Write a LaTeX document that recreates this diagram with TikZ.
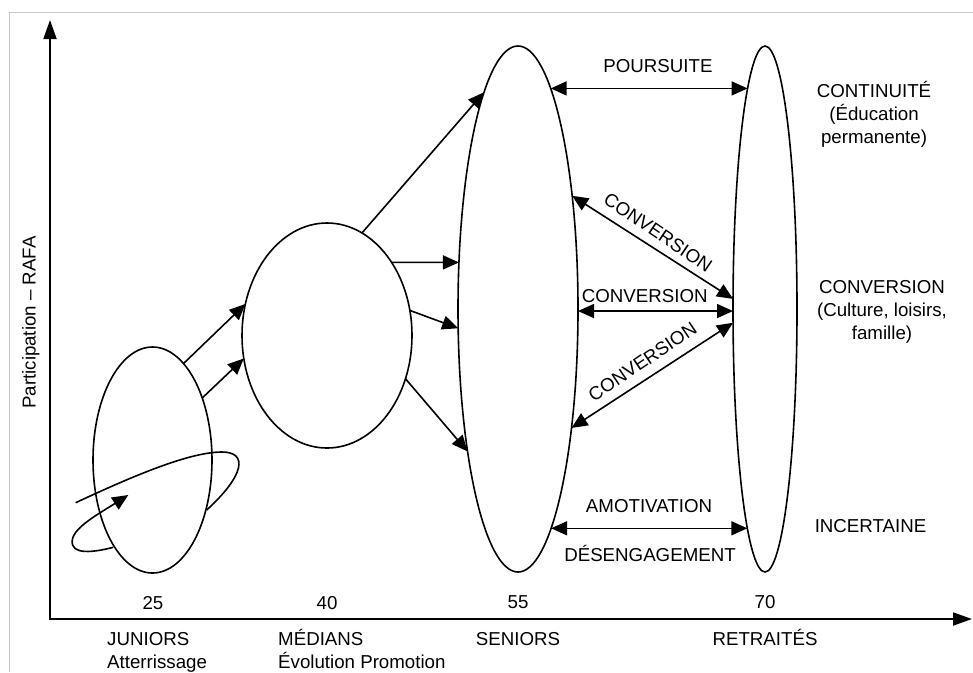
\documentclass[tikz,border=0pt]{standalone}
\usepackage{fontspec}
\setmainfont{Liberation Sans}
\usetikzlibrary{arrows.meta,shapes.geometric,calc}
\begin{document}
\begin{tikzpicture}[x=1pt,y=-1pt,
  >={Triangle[length=16pt,width=14pt]},
  every node/.style={font=\fontsize{18.7}{23}\selectfont, inner sep=0pt},
  ell/.style={draw, ellipse, line width=1.6pt, inner sep=0pt, outer sep=0pt},
  conn/.style={line width=1.6pt, ->},
  dconn/.style={line width=1.6pt, <->},
  axis/.style={line width=1.8pt, line join=miter,
    {Triangle[length=19pt,width=13pt]}-{Triangle[length=19pt,width=13pt]}},
  frame/.style={draw=black!22, line width=1pt},
  lbl/.style={anchor=base},
  rlbl/.style={anchor=base, align=center},
  blbl/.style={anchor=base west, align=left}]
\useasboundingbox (0,0) rectangle (973,672);
% frame
\coordinate (fbl) at (9.5,672);
\coordinate (ftl) at (9.5,12.5);
\coordinate (ftr) at (973,12.5);
\draw[frame] (fbl) -- (ftl) -- (ftr);
% axes
\coordinate (O) at (50,619);
\coordinate (ytip) at (50,20);
\coordinate (xtip) at (972,619);
\draw[axis] (ytip) -- (O) -- (xtip);
\node[rotate=90, anchor=base] (ylab) at (35.5,322.5) {Participation – RAFA};
% ellipses
\node[ell, minimum width=119pt, minimum height=226pt] (e1) at (152.5,460) {};
\node[ell, minimum width=170pt, minimum height=225pt] (e2) at (327,335.5) {};
\node[ell, minimum width=120pt, minimum height=526pt] (e3) at (518,309) {};
\node[ell, minimum width=64pt, minimum height=526pt] (e4) at (765,309) {};
% loop around juniors
\coordinate (la) at (75.7,502.7);
\coordinate (lb) at (206.7,510);
\coordinate (lc) at (113.3,547.3);
\coordinate (ld) at (128.3,495);
\draw[line width=1.6pt] (la) .. controls (135,475) and (190,452) .. (222,452)
  .. controls (248,452) and (245,475) .. (lb);
\draw[conn] (lc) .. controls (95,552) and (70,556) .. (72.3,540)
  .. controls (74,527) and (100,513) .. (ld);
% connectors (points on the ellipses, parametric angle)
\draw[conn] ($(e1.center)+({59.5*cos(58.6)},{-113*sin(58.6)})$)
  -- ($(e2.center)+({85*cos(163.7)},{-112.5*sin(163.7)})$);
\draw[conn] ($(e1.center)+({59.5*cos(33.3)},{-113*sin(33.3)})$)
  -- ($(e2.center)+({85*cos(191.8)},{-112.5*sin(191.8)})$);
\draw[conn] ($(e2.center)+({85*cos(65.7)},{-112.5*sin(65.7)})$)
  -- ($(e3.center)+({60*cos(124.5)},{-263*sin(124.5)})$);
\draw[conn] ($(e2.center)+({85*cos(40.5)},{-112.5*sin(40.5)})$)
  -- ($(e3.center)+({60*cos(169.8)},{-263*sin(169.8)})$);
\draw[conn] ($(e2.center)+({85*cos(12.9)},{-112.5*sin(12.9)})$)
  -- ($(e3.center)+({60*cos(184.2)},{-263*sin(184.2)})$);
\draw[conn] ($(e2.center)+({85*cos(337.4)},{-112.5*sin(337.4)})$)
  -- ($(e3.center)+({60*cos(212.8)},{-263*sin(212.8)})$);
\draw[dconn] ($(e3.center)+({60*cos(57)},{-263*sin(57)})$)
  -- ($(e4.center)+({32*cos(123)},{-263*sin(123)})$);
\draw[dconn] ($(e3.center)+({60*cos(25.5)},{-263*sin(25.5)})$)
  -- ($(e4.center)+({32*cos(177.8)},{-263*sin(177.8)})$);
\draw[dconn] ($(e3.center)+({60*cos(359.56)},{-263*sin(359.56)})$)
  -- ($(e4.center)+({32*cos(180.44)},{-263*sin(180.44)})$);
\draw[dconn] ($(e3.center)+({60*cos(333.1)},{-263*sin(333.1)})$)
  -- ($(e4.center)+({32*cos(183)},{-263*sin(183)})$);
\draw[dconn] ($(e3.center)+({60*cos(303.5)},{-263*sin(303.5)})$)
  -- ($(e4.center)+({32*cos(236.5)},{-263*sin(236.5)})$);
% labels
\node[lbl] (pours) at (658,72.7) {POURSUITE};
\node[rotate=-34] (conv1) at (658,232.5) {CONVERSION};
\node[lbl] (conv2) at (644.7,302.7) {CONVERSION};
\node[rotate=34] (conv3) at (642.5,361.7) {CONVERSION};
\node[lbl] (amot) at (649,512) {AMOTIVATION};
\node[lbl] (deseng) at (650,561.7) {DÉSENGAGEMENT};
\node[rlbl] (cont) at (874,143.5) {CONTINUITÉ\\(Éducation\\permanente)};
\node[rlbl] (convr) at (882,339) {CONVERSION\\(Culture, loisirs,\\famille)};
\node[lbl] (incert) at (870.5,532) {INCERTAINE};
% ages
\node[lbl] (a25) at (153,609) {25};
\node[lbl] (a40) at (327,609) {40};
\node[lbl] (a55) at (518,608) {55};
\node[lbl] (a70) at (765,608) {70};
% categories
\node[blbl] (jun) at (107,668) {JUNIORS\\Atterrissage};
\node[blbl] (med) at (278,668) {MÉDIANS\\Évolution Promotion};
\node[lbl] (sen) at (518,645) {SENIORS};
\node[lbl] (ret) at (765,645) {RETRAITÉS};
\end{tikzpicture}
\end{document}
